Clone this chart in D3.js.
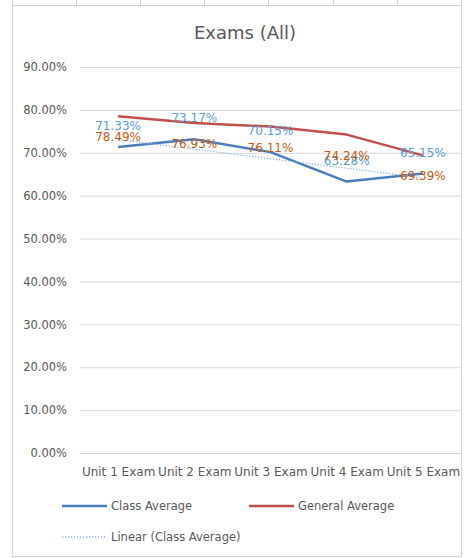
<!DOCTYPE html>
<html><head><meta charset="utf-8">
<script src="https://cdn.jsdelivr.net/npm/d3@7/dist/d3.min.js"></script>
<style>
html,body{margin:0;padding:0;background:#fff;}
svg{display:block;font-family:"DejaVu Sans",sans-serif;}
</style></head>
<body><svg id="c" width="464" height="558"></svg>
<script>
const categories = ["Unit 1 Exam","Unit 2 Exam","Unit 3 Exam","Unit 4 Exam","Unit 5 Exam"];
const classAverage = [0.7133,0.7317,0.7015,0.6328,0.6515];
const generalAverage = [0.7849,0.7693,0.7611,0.7424,0.6939];
const yTicks = [0,0.1,0.2,0.3,0.4,0.5,0.6,0.7,0.8,0.9];
const title = "Exams (All)";
const legendLabels = ["Class Average","General Average","Linear (Class Average)"];

const svg = d3.select("#c");
const FONT = "'DejaVu Sans',sans-serif";
const cellX = [12,76,140,204,268,333,397,461];
svg.selectAll("line.cell").data(cellX).enter().append("line")
  .attr("x1",d=>d+0.5).attr("x2",d=>d+0.5).attr("y1",0).attr("y2",5)
  .attr("stroke","#d4d4d4").attr("stroke-width",1);
svg.append("rect").attr("x",12.5).attr("y",5.5).attr("width",449).attr("height",551)
  .attr("fill","#fff").attr("stroke","#d4d4d4").attr("stroke-width",1);

const pL=80, pR=461, pT=67, pB=453;
const x = d3.scalePoint().domain(categories).range([pL,pR]).padding(0.5);
const y = d3.scaleLinear().domain([0,0.9]).range([pB,pT]);

svg.append("text").attr("x",245).attr("y",39).attr("text-anchor","middle")
  .attr("font-size",18).attr("fill","#595959").text(title);

const ya = svg.append("g").attr("transform",`translate(${pL},0)`)
  .call(d3.axisLeft(y).tickValues(yTicks).tickFormat(d3.format(".2%")).tickSize(-(pR-pL)).tickPadding(13));
ya.select(".domain").remove();
ya.selectAll(".tick line").attr("stroke","#d9d9d9");
ya.selectAll(".tick text").attr("fill","#595959").attr("font-size",11.5).attr("font-family",FONT);

const xa = svg.append("g").attr("transform",`translate(0,${pB})`)
  .call(d3.axisBottom(x).tickSize(0).tickPadding(14));
xa.select(".domain").remove();
xa.selectAll(".tick text").attr("fill","#595959").attr("font-size",12).attr("font-family",FONT);

const line = d3.line().x((d,i)=>x(categories[i])).y(d=>y(d));
svg.append("path").datum(generalAverage).attr("d",line).attr("fill","none")
  .attr("stroke","#C0504D").attr("stroke-width",2.5).attr("stroke-linejoin","round");
svg.append("path").datum(classAverage).attr("d",line).attr("fill","none")
  .attr("stroke","#4A7EBB").attr("stroke-width",2.5).attr("stroke-linejoin","round");

const n = classAverage.length;
const xs = d3.range(1,n+1);
const mx = d3.mean(xs), my = d3.mean(classAverage);
const slope = d3.sum(xs,(v,i)=>(v-mx)*(classAverage[i]-my))/d3.sum(xs,v=>(v-mx)*(v-mx));
const icpt = my - slope*mx;
const trend = xs.map(v=>icpt+slope*v);
svg.append("path").datum(trend).attr("d",line).attr("fill","none")
  .attr("stroke","#8FB4E3").attr("stroke-width",1.3).attr("stroke-dasharray","1.3,1.7");

const fmt = d3.format(".2%");
svg.selectAll("text.cl").data(classAverage).enter().append("text")
  .attr("x",(d,i)=>x(categories[i])).attr("y",d=>y(d)-17).attr("text-anchor","middle")
  .attr("font-size",12).attr("fill","#5B9BD5").text(d=>fmt(d));
svg.selectAll("text.gl").data(generalAverage).enter().append("text")
  .attr("x",(d,i)=>x(categories[i])).attr("y",d=>y(d)+25).attr("text-anchor","middle")
  .attr("font-size",12).attr("fill","#C55A11").text(d=>fmt(d));

const lg = svg.append("g");
const items = [
  {x:62,y:506,color:"#4A7EBB",w:2.5,dash:null,label:legendLabels[0]},
  {x:249,y:506,color:"#C0504D",w:2.5,dash:null,label:legendLabels[1]},
  {x:62,y:537,color:"#8FB4E3",w:1.3,dash:"1.3,1.7",label:legendLabels[2]}
];
items.forEach(it=>{
  lg.append("line").attr("x1",it.x).attr("x2",it.x+45).attr("y1",it.y).attr("y2",it.y)
    .attr("stroke",it.color).attr("stroke-width",it.w).attr("stroke-dasharray",it.dash);
  lg.append("text").attr("x",it.x+49).attr("y",it.y+4).attr("font-size",11.5)
    .attr("fill","#595959").text(it.label);
});
</script></body></html>
